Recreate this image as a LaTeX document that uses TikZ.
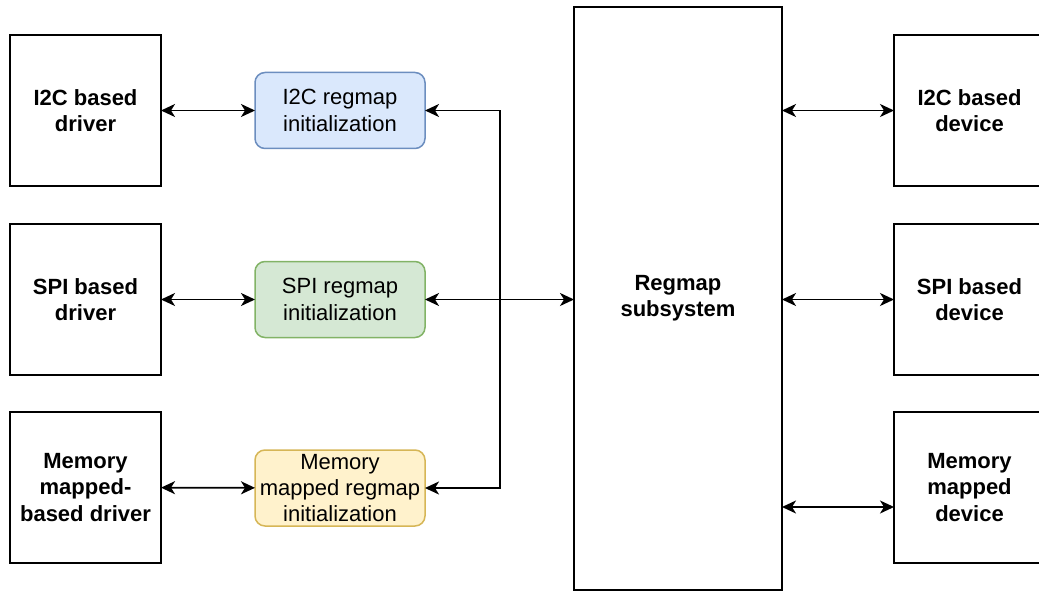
\documentclass[tikz,border=0pt]{standalone}
\usepackage{fontspec}
\setmainfont{Liberation Sans}
\definecolor{blueFill}{HTML}{DAE8FC}
\definecolor{blueLine}{HTML}{6C8EBF}
\definecolor{greenFill}{HTML}{D5E8D4}
\definecolor{greenLine}{HTML}{82B366}
\definecolor{yellowFill}{HTML}{FFF2CC}
\definecolor{yellowLine}{HTML}{D6B656}
\usetikzlibrary{arrows.meta, positioning}

\begin{document}
\begin{tikzpicture}[x=1pt, y=-1pt]

	\tikzset{
		block/.style={
			draw, line width=1.8pt,
			minimum width=151pt, minimum height=151pt,
			outer sep=0pt, inner sep=0pt,
			align=center,
			font=\fontsize{22}{26.3}\selectfont\bfseries
		},
		init/.style={
			draw=#1Line, fill=#1Fill, line width=1.5pt,
			rounded corners=10pt,
			minimum width=170pt, minimum height=76pt,
			outer sep=0pt, inner sep=0pt,
			align=center,
			font=\fontsize{22}{26.3}\selectfont
		},
		dbl/.style={
			{Stealth[length=14pt,width=13pt,inset=4pt]}-{Stealth[length=14pt,width=13pt,inset=4pt]},
			line width=1.8pt
		},
		sgl/.style={
			-{Stealth[length=14pt,width=13pt,inset=4pt]},
			line width=1.8pt
		}
	}

	\useasboundingbox (0,0) rectangle (1039,591);

	% drivers
	\node[block] (i2cdrv) at (85.5,110.5) {I2C based\\driver};
	\node[block] (spidrv) at (85.5,299.5) {SPI based\\driver};
	\node[block] (memdrv) at (85.5,487.5) {Memory\\mapped-\\based driver};

	% regmap initialization
	\node[init=blue] (i2cinit) at (340,110.5) {I2C regmap\\initialization};
	\node[init=green] (spiinit) at (340,299.5) {SPI regmap\\initialization};
	\node[init=yellow] (meminit) at (340,488) {Memory\\mapped regmap\\initialization};

	% core
	\node[block, minimum width=208pt, minimum height=583pt] (regmap) at (678,298.5) {Regmap\\subsystem};

	% devices
	\node[block] (i2cdev) at (969.5,110.5) {I2C based\\device};
	\node[block] (spidev) at (969.5,299.5) {SPI based\\device};
	\node[block] (memdev) at (969.5,487.5) {Memory\\mapped\\device};

	\coordinate (bus) at (500,299.5);
	\coordinate (memin) at ([yshift=-19.5pt]memdev.west);

	\draw[dbl] (i2cdrv) -- (i2cinit);
	\draw[dbl] (spidrv) -- (spiinit);
	\draw[dbl] (memdrv) -- (meminit);

	\draw[dbl] (spiinit) -- (regmap.west |- spiinit);
	\draw[sgl] (bus) |- (i2cinit.east);
	\draw[sgl] (bus) |- (meminit.east);

	\draw[dbl] (regmap.east |- i2cdev) -- (i2cdev);
	\draw[dbl] (regmap.east |- spidev) -- (spidev);
	\draw[dbl] (memin -| regmap.east) -- (memin);

\end{tikzpicture}
\end{document}
